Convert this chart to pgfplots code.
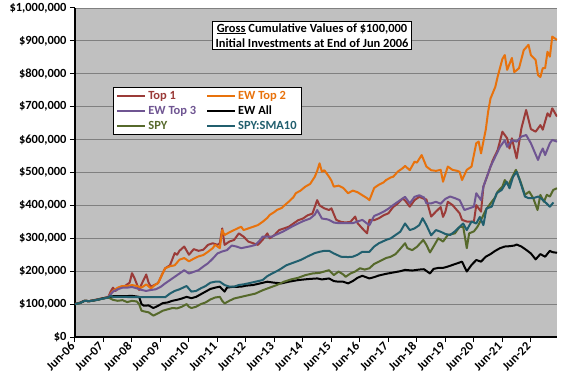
\documentclass[border=0pt]{standalone}
\usepackage{pgfplots}
\pgfplotsset{compat=1.18}
\usepackage{fontspec}
\setmainfont{Carlito}
\definecolor{cTopOne}{HTML}{9B3B38}
\definecolor{cTopTwo}{HTML}{E8720C}
\definecolor{cTopThree}{HTML}{6F5592}
\definecolor{cSPY}{HTML}{56692B}
\definecolor{cSMA}{HTML}{215F6E}
\definecolor{cBg}{HTML}{C0C0C0}
\definecolor{cGrid}{HTML}{808080}
\begin{document}
\begin{tikzpicture}
\useasboundingbox (-75bp,-47bp) rectangle (501bp,337bp);
\begin{axis}[
  at={(0,0)}, anchor=south west,
  scale only axis, width=482bp, height=329bp,
  xmin=0, xmax=203, ymin=0, ymax=1000,
  axis background/.style={fill=cBg},
  axis x line*=bottom, axis y line*=left,
  axis line style={-, line width=1.6bp, black},
  ymajorgrids, grid style={cGrid, line width=0.9bp},
  xtick={0,12,...,192},
  xticklabels={Jun-06,Jun-07,Jun-08,Jun-09,Jun-10,Jun-11,Jun-12,Jun-13,Jun-14,Jun-15,Jun-16,Jun-17,Jun-18,Jun-19,Jun-20,Jun-21,Jun-22},
  ytick={0,100,...,1000},
  yticklabels={\$0,{\$100,000},{\$200,000},{\$300,000},{\$400,000},{\$500,000},{\$600,000},{\$700,000},{\$800,000},{\$900,000},{\$1,000,000}},
  tick align=outside, major tick length=5bp,
  tick style={black, line width=1bp},
  ticklabel style={font=\bfseries\fontsize{12.5}{14}\selectfont},
  xticklabel style={rotate=45, anchor=east},
  legend columns=2,
  legend style={at={(0.0788,0.760)}, anchor=north west, draw=black, line width=0.8bp, fill=white,
    font=\bfseries\fontsize{12.5}{14}\selectfont, inner xsep=3bp, inner ysep=2bp,
    /tikz/every even column/.append style={column sep=8bp}, row sep=1bp},
  legend image code/.code={\draw[#1, line width=2bp] (0bp,0bp) -- (28bp,0bp);},
  legend cell align=left,
  every axis plot/.append style={line width=2bp, line join=round},
]
\addplot[cTopOne] coordinates {(0,100) (2,104) (4,110) (6,109) (8,112) (10,115) (12,118) (14,121) (15,138) (16,150) (17,140) (19,152) (21,155) (23,165) (24,194) (25,180) (27,143) (28,160) (30,190) (31,165) (32,153) (34,160) (35,164) (37,195) (38,209) (40,218) (42,255) (43,250) (44,262) (46,275) (48,250) (50,267) (52,262) (54,265) (56,280) (58,285) (60,280) (61,285) (62,330) (63,280) (65,290) (67,295) (69,315) (71,305) (73,290) (75,285) (77,280) (79,295) (81,315) (82,300) (84,310) (86,325) (88,330) (90,335) (92,345) (94,355) (96,360) (98,370) (100,375) (102,416) (103,400) (105,391) (107,386) (108,391) (110,356) (112,350) (114,348) (116,350) (118,366) (119,346) (121,330) (123,315) (124,356) (126,355) (128,361) (130,370) (132,376) (134,395) (136,406) (138,421) (139,415) (141,396) (143,416) (145,426) (147,420) (148,418) (150,366) (152,381) (154,395) (155,365) (156,381) (157,411) (159,401) (162,376) (163,356) (165,351) (168,351) (169,401) (171,381) (172,457) (174,497) (176,538) (178,568) (180,624) (182,604) (183,573) (184,604) (186,543) (188,634) (190,690) (192,632) (194,624) (196,644) (197,630) (199,680) (200,670) (201,695) (203,670)};
\addlegendentry{\textcolor{cTopOne}{Top 1}}
\addplot[cTopTwo] coordinates {(0,100) (2,104) (4,110) (6,109) (8,112) (10,115) (12,118) (14,121) (16,140) (18,150) (20,155) (22,155) (24,158) (26,155) (28,150) (30,160) (32,148) (34,160) (35,164) (37,195) (38,209) (40,215) (42,218) (44,235) (46,240) (48,230) (50,238) (52,245) (54,249) (56,259) (58,270) (59,280) (61,270) (62,325) (63,310) (65,318) (67,325) (69,332) (70,335) (71,325) (73,330) (75,335) (77,340) (79,350) (81,362) (82,371) (84,380) (85,386) (87,392) (89,405) (90,411) (92,425) (93,437) (95,445) (97,457) (99,465) (101,487) (102,505) (103,528) (104,502) (105,507) (107,487) (108,475) (109,457) (111,460) (113,453) (115,437) (117,445) (119,440) (121,431) (123,422) (124,416) (126,453) (128,463) (130,470) (131,477) (133,485) (134,487) (136,503) (138,513) (139,520) (141,507) (143,533) (144,530) (146,553) (148,518) (150,507) (152,505) (154,508) (155,472) (157,518) (159,508) (161,505) (162,502) (163,477) (165,508) (167,518) (169,589) (170,594) (171,558) (173,630) (174,685) (175,725) (177,760) (178,791) (180,845) (181,857) (182,812) (184,848) (185,805) (187,817) (189,872) (191,888) (192,857) (194,842) (195,796) (196,790) (197,817) (198,817) (199,867) (200,852) (201,913) (203,903)};
\addlegendentry{\textcolor{cTopTwo}{EW Top 2}}
\addplot[cTopThree] coordinates {(0,100) (2,104) (4,110) (6,109) (8,112) (10,115) (12,118) (14,121) (16,138) (18,145) (20,150) (22,150) (24,152) (26,148) (28,143) (30,140) (32,143) (34,145) (36,152) (38,163) (40,173) (42,183) (44,193) (46,203) (48,193) (50,198) (52,203) (54,214) (56,224) (58,238) (60,254) (62,260) (64,264) (66,278) (68,275) (70,270) (72,273) (74,276) (76,280) (78,295) (79,305) (81,305) (83,305) (85,312) (86,315) (88,322) (90,330) (92,338) (94,345) (96,352) (99,360) (101,372) (102,386) (104,360) (106,358) (107,356) (109,348) (111,346) (113,346) (115,346) (117,346) (119,351) (121,356) (123,345) (124,340) (126,368) (128,374) (130,381) (132,390) (134,401) (136,411) (138,421) (139,426) (141,406) (143,426) (145,431) (147,424) (148,406) (150,406) (152,411) (154,405) (156,420) (158,427) (160,422) (162,416) (164,386) (166,391) (168,396) (169,437) (171,416) (172,457) (175,518) (177,548) (179,578) (181,598) (182,578) (184,598) (186,594) (188,609) (190,614) (192,589) (195,538) (196,558) (197,573) (198,553) (200,589) (201,599) (203,594)};
\addlegendentry{\textcolor{cTopThree}{EW Top 3}}
\addplot[black] coordinates {(0,100) (2,103) (4,110) (6,109) (8,111) (10,114) (12,118) (14,120) (16,124) (20,124) (24,125) (27,122) (28,100) (29,95) (31,96) (33,88) (35,95) (37,103) (39,105) (41,110) (43,113) (45,117) (47,122) (49,118) (51,122) (53,130) (55,138) (57,146) (59,150) (61,153) (62,145) (63,138) (64,150) (66,152) (70,153) (72,156) (75,158) (78,163) (81,168) (84,165) (87,163) (90,168) (94,173) (98,176) (102,178) (104,175) (107,178) (109,170) (111,168) (113,168) (115,163) (117,170) (119,180) (121,186) (124,178) (126,182) (128,187) (131,192) (134,196) (137,200) (139,204) (142,202) (145,205) (147,206) (149.5,193) (151,207) (153,210) (155,210) (157,214) (159,219) (161,224) (163,229) (165,199) (167,219) (169,234) (171,229) (173,244) (175,252) (177,262) (179,270) (181,275) (183,276) (185,278) (186,281) (188,275) (190,265) (192,254) (194,236) (196,252) (198,244) (200,262) (201,258) (203,256)};
\addlegendentry{\textcolor{black}{EW All}}
\addplot[cSPY] coordinates {(0,100) (2,103) (4,110) (6,109) (8,111) (10,114) (12,117) (14,120) (16,113) (18,110) (20,112) (22,106) (24,110) (26,108) (27,100) (28,80) (29,78) (31,75) (33,65) (35,72) (37,80) (39,84) (41,88) (43,87) (45,92) (47,100) (48,92) (49,88) (51,92) (53,100) (55,105) (57,114) (59,120) (61,122) (62,110) (63,102) (65,110) (67,117) (70,122) (73,127) (76,132) (79,142) (82,150) (85,158) (88,168) (91,175) (94,180) (97,188) (100,193) (103,195) (107,203) (109,188) (111,199) (113,190) (114,183) (116,193) (118,199) (120,209) (122,205) (124,209) (126,222) (128,229) (131,240) (133,244) (135,252) (137,268) (139,285) (140,270) (142,264) (144,274) (146.7,295) (148,280) (149.5,257) (151,275) (153,300) (155,290) (157,310) (160,315) (162,335) (163.5,335) (165,270) (166,315) (168,321) (169.5,335) (171,356) (173,386) (175,406) (177,425) (178,442) (180,457) (181,477) (182.5,462) (185.7,508) (187.4,477) (189.5,432) (191.3,442) (193,422) (194.8,386) (196,432) (197.5,411) (198.7,432) (200,427) (201.4,447) (203,452)};
\addlegendentry{\textcolor{cSPY}{SPY}}
\addplot[cSMA] coordinates {(0,100) (2,103) (4,110) (6,109) (8,111) (10,114) (12,117) (14,120) (15,125) (16,122) (20,122) (25,121) (30,121) (35,121) (38,121) (40,132) (42,140) (44,145) (47,155) (49,138) (51,140) (53,148) (55,155) (57,165) (59,168) (61,168) (63,158) (65,153) (67,153) (69,158) (71,160) (73,163) (76,168) (79,173) (81,185) (83,193) (86,204) (89,218) (92,226) (95,234) (98,245) (101,255) (103,259) (105,262) (107,262) (109,254) (112,244) (115,243) (117,244) (119,250) (121,259) (124,259) (126,275) (128,285) (131,295) (133,300) (135,310) (137,320) (139,345) (141,325) (143,330) (145,340) (146.4,361) (148,340) (150,309) (152,325) (154,320) (156,313) (158,310) (160,321) (162,335) (163.5,345) (165,325) (167,351) (169,345) (170.5,365) (172,340) (173.3,391) (175.5,396) (177.6,437) (179.7,447) (181.8,472) (183,452) (184.5,487) (186,502) (187.5,472) (189.5,427) (191,422) (193,422) (195.1,427) (196.5,420) (198.6,406) (200,396) (201.5,409)};
\addlegendentry{\textcolor{cSMA}{SPY:SMA10}}
\end{axis}
\node[draw=black, line width=0.8bp, fill=white, align=center, inner xsep=3bp, inner ysep=2bp,
  font=\bfseries\fontsize{12.5}{15.5}\selectfont] at (237bp,301.5bp)
  {\underline{Gross} Cumulative Values of \$100,000\\Initial Investments at End of Jun 2006};
\end{tikzpicture}
\end{document}
